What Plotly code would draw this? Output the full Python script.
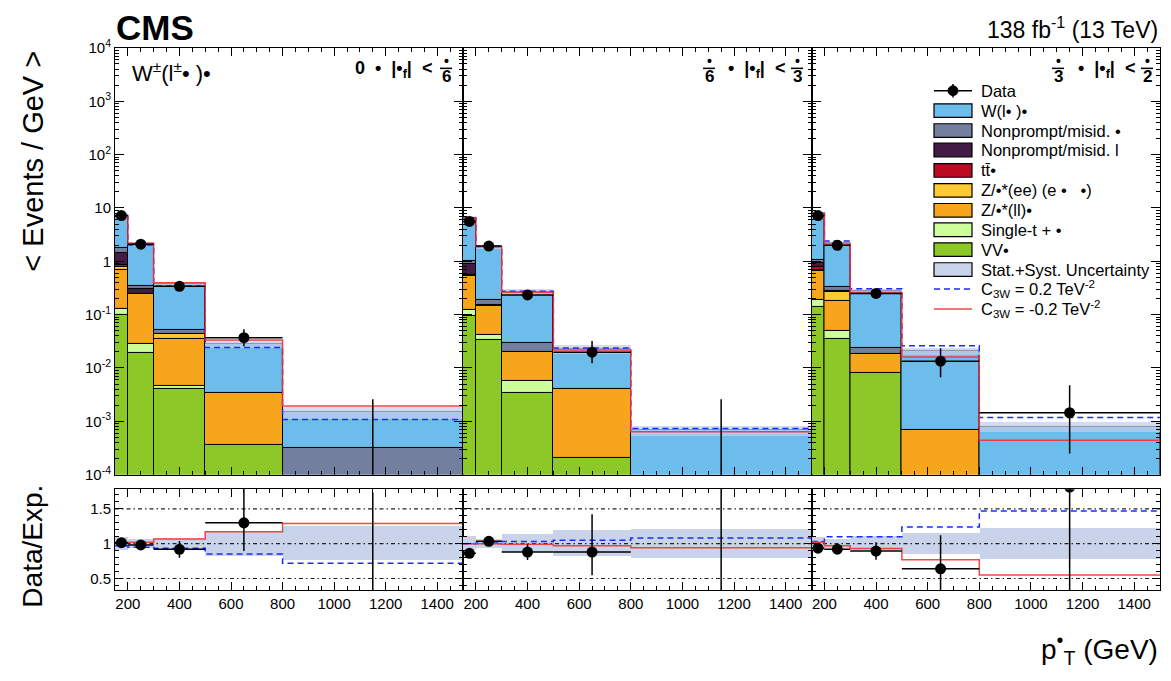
import plotly.graph_objects as go

W_PX, H_PX = 1171, 681
FONT = "Liberation Sans, Arial, sans-serif"

# ---------------- data ----------------
bin_edges = [150, 200, 300, 500, 800, 1500]
x_tick_vals = [200, 400, 600, 800, 1000, 1200, 1400]
y_tick_exps = [-4, -3, -2, -1, 0, 1, 2, 3, 4]
y_tick_text = ["10<sup>-4</sup>", "10<sup>-3</sup>", "10<sup>-2</sup>", "10<sup>-1</sup>", "1", "10",
               "10<sup>2</sup>", "10<sup>3</sup>", "10<sup>4</sup>"]
ratio_ticks = [0.5, 1.0, 1.5]
ratio_tick_text = ["0.5", "1", "1.5"]

# Events / GeV per panel (3 panels x 5 bins), per process
vv_g      = [[0.10, 0.019, 0.004, 0.00036, 0], [0.096, 0.034, 0.0034, 0.00021, 0], [0.14, 0.035, 0.0081, 0, 0]]
single_t  = [[0.03, 0.009, 0.0007, 0, 0], [0.026, 0.007, 0.0024, 0, 0], [0.045, 0.014, 0, 0, 0]]
z_ll_g    = [[0.57, 0.215, 0.031, 0.00304, 0], [0.40, 0.107, 0.014, 0.0039, 0], [0.465, 0.129, 0.0105, 0.00068, 0]]
z_ee_eg   = [[0.10, 0.002, 0.0075, 0, 0], [0.005, 0.002, 0, 0, 0], [0.03, 0.092, 0, 0, 0]]
tt_g      = [[0.06, 0.002, 0.0003, 0, 0], [0.025, 0.001, 0, 0, 0], [0.12, 0.002, 0, 0, 0]]
nonprompt_l = [[0.59, 0.053, 0.0005, 0, 0], [0.36, 0.002, 0, 0, 0], [0.15, 0.002, 0, 0, 0]]
nonprompt_g = [[0.35, 0.05, 0.0083, 0, 0.00032], [0.11, 0.035, 0.0092, 0, 0], [0.10, 0.05, 0.005, 0, 0]]
w_lnu_g   = [[5.3, 1.79, 0.318, 0.0251, 0.00118], [5.48, 1.68, 0.237, 0.0184, 0.00068], [6.65, 1.85, 0.256, 0.0203, 0.0008]]

# relative stat+syst uncertainty
rel_unc = [[0.09, 0.07, 0.08, 0.18, 0.245], [0.10, 0.07, 0.13, 0.185, 0.21], [0.09, 0.07, 0.10, 0.15, 0.22]]

# EFT predictions relative to SM expectation
c3w_pos_ratio = [[0.97, 0.95, 0.935, 0.85, 0.72], [1.0, 1.01, 1.03, 1.05, 1.08], [1.03, 1.10, 1.10, 1.24, 1.47]]
c3w_neg_ratio = [[1.02, 1.02, 1.065, 1.17, 1.29], [1.0, 1.0, 0.99, 0.97, 0.94], [1.02, 0.97, 0.93, 0.77, 0.55]]

# data
data_vals   = [[7.2, 2.1, 0.34, 0.037, 0], [5.6, 1.93, 0.234, 0.0198, 0], [7.2, 2.0, 0.25, 0.0134, 0.00145]]
data_err_up = [[0.3, 0.13, 0.045, 0.016, 0.0026], [0.28, 0.12, 0.03, 0.0122, 0.0026], [0.3, 0.13, 0.035, 0.0101, 0.0033]]
data_err_dn = [[0.3, 0.13, 0.045, 0.0115, 0], [0.28, 0.12, 0.03, 0.0075, 0], [0.3, 0.13, 0.035, 0.0067, 0.0012]]

process_names = ["VV•", "Single-t + •", "Z/•*(ll)•", "Z/•*(ee) (e •\u00a0\u00a0\u00a0•)", "tt\u0304•",
                 "Nonprompt/misid. l", "Nonprompt/misid. •", "W(l• )•"]
process_values = [vv_g, single_t, z_ll_g, z_ee_eg, tt_g, nonprompt_l, nonprompt_g, w_lnu_g]
process_colors = ["#8cc828", "#ccff99", "#f7a51c", "#fec932", "#bb0a22", "#431c45", "#737f9e", "#6cbdeb"]

panel_ranges = [("", "6"), ("6", "3"), ("3", "2")]

# ---------------- helpers ----------------
def px(x):
    return x / W_PX

def py(y):
    return 1 - y / H_PX

FLOOR = 1e-7
centers = [(a + b) / 2 for a, b in zip(bin_edges[:-1], bin_edges[1:])]
widths = [b - a for a, b in zip(bin_edges[:-1], bin_edges[1:])]
half_w = [w / 2 for w in widths]

RED = "rgba(245,50,50,0.9)"
BLUE = "#1a2cff"
BAND_MAIN = "rgba(196,206,234,0.72)"
BAND_RATIO = "#c9d3ea"

panel_x = [(115, 463), (463, 811.5), (811.5, 1160)]
main_y = (38, 477)
ratio_y = (492, 596)

fig = go.Figure()

for p in range(3):
    xa = "x%d" % (p + 1)
    ya = "y%d" % (p + 1)
    xr = "x%d" % (p + 4)
    yr = "y%d" % (p + 4)
    # stacked processes
    cum = [FLOOR] * 5
    for name, vals, col in zip(process_names, process_values, process_colors):
        v = vals[p]
        fig.add_trace(go.Bar(
            x=centers, y=[vv if vv > 0 else None for vv in v], base=list(cum), width=widths,
            marker=dict(color=col, line=dict(color="black", width=1)),
            xaxis=xa, yaxis=ya, showlegend=False, name=name, hoverinfo="skip"))
        cum = [c + vv for c, vv in zip(cum, v)]
    total = [c - FLOOR for c in cum]
    # uncertainty band
    fig.add_trace(go.Bar(
        x=centers, y=[2 * t * u for t, u in zip(total, rel_unc[p])],
        base=[t * (1 - u) for t, u in zip(total, rel_unc[p])], width=widths,
        marker=dict(color=BAND_MAIN, line=dict(width=0)),
        xaxis=xa, yaxis=ya, showlegend=False, hoverinfo="skip"))
    # EFT lines
    pos = [t * r for t, r in zip(total, c3w_pos_ratio[p])]
    neg = [t * r for t, r in zip(total, c3w_neg_ratio[p])]
    fig.add_trace(go.Scatter(x=bin_edges, y=pos + [pos[-1]], mode="lines", line_shape="hv",
                             line=dict(color=BLUE, width=1.5, dash="6px,4px"),
                             xaxis=xa, yaxis=ya, showlegend=False, hoverinfo="skip"))
    fig.add_trace(go.Scatter(x=bin_edges, y=neg + [neg[-1]], mode="lines", line_shape="hv",
                             line=dict(color=RED, width=1.5),
                             xaxis=xa, yaxis=ya, showlegend=False, hoverinfo="skip"))
    # data
    idx = [i for i in range(5) if data_vals[p][i] > 0]
    zero_idx = [i for i in range(5) if data_vals[p][i] <= 0]
    fig.add_trace(go.Scatter(
        x=[centers[i] for i in idx], y=[data_vals[p][i] for i in idx], mode="markers",
        marker=dict(color="black", size=11),
        error_y=dict(type="data", array=[data_err_up[p][i] for i in idx],
                     arrayminus=[data_err_dn[p][i] for i in idx], width=0, thickness=1.5, color="black"),
        error_x=dict(type="data", array=[half_w[i] for i in idx], width=0, thickness=1.5, color="black"),
        xaxis=xa, yaxis=ya, showlegend=False, hoverinfo="skip"))
    for i in zero_idx:
        fig.add_trace(go.Scatter(x=[centers[i], centers[i]], y=[FLOOR, data_err_up[p][i]], mode="lines",
                                 line=dict(color="black", width=1.5),
                                 xaxis=xa, yaxis=ya, showlegend=False, hoverinfo="skip"))

    # ---- ratio panel ----
    fig.add_trace(go.Bar(
        x=centers, y=[2 * u for u in rel_unc[p]], base=[1 - u for u in rel_unc[p]], width=widths,
        marker=dict(color=BAND_RATIO, line=dict(width=0)),
        xaxis=xr, yaxis=yr, showlegend=False, hoverinfo="skip"))
    for ref in ratio_ticks:
        fig.add_trace(go.Scatter(x=[bin_edges[0], bin_edges[-1]], y=[ref, ref], mode="lines",
                                 line=dict(color="#222222", width=1.2, dash="4px,3px,1.5px,3px"),
                                 xaxis=xr, yaxis=yr, showlegend=False, hoverinfo="skip"))
    rp = c3w_pos_ratio[p]
    rn = c3w_neg_ratio[p]
    fig.add_trace(go.Scatter(x=bin_edges, y=rp + [rp[-1]], mode="lines", line_shape="hv",
                             line=dict(color=BLUE, width=1.5, dash="6px,4px"),
                             xaxis=xr, yaxis=yr, showlegend=False, hoverinfo="skip"))
    fig.add_trace(go.Scatter(x=bin_edges, y=rn + [rn[-1]], mode="lines", line_shape="hv",
                             line=dict(color=RED, width=1.5),
                             xaxis=xr, yaxis=yr, showlegend=False, hoverinfo="skip"))
    fig.add_trace(go.Scatter(
        x=[centers[i] for i in idx], y=[data_vals[p][i] / total[i] for i in idx], mode="markers",
        marker=dict(color="black", size=11),
        error_y=dict(type="data", array=[data_err_up[p][i] / total[i] for i in idx],
                     arrayminus=[data_err_dn[p][i] / total[i] for i in idx], width=0, thickness=1.5, color="black"),
        error_x=dict(type="data", array=[half_w[i] for i in idx], width=0, thickness=1.5, color="black"),
        xaxis=xr, yaxis=yr, showlegend=False, hoverinfo="skip"))
    for i in zero_idx:
        fig.add_trace(go.Scatter(x=[centers[i], centers[i]], y=[0, data_err_up[p][i] / total[i]], mode="lines",
                                 line=dict(color="black", width=1.5),
                                 xaxis=xr, yaxis=yr, showlegend=False, hoverinfo="skip"))

# ---------------- axes ----------------
tickfont = dict(family=FONT, size=15, color="black")
minor_log = [m * 10 ** e for e in range(-4, 4) for m in range(2, 10)]
minor_ratio = [round(0.3 + 0.1 * k, 2) for k in range(1, 15)]
minor_x = [v for v in range(150, 1501, 50)]

layout_axes = {}
for p in range(3):
    x0, x1 = panel_x[p]
    common_x = dict(range=[bin_edges[0], bin_edges[-1]], domain=[px(x0), px(x1)],
                    showline=True, linecolor="black", linewidth=1, mirror="allticks",
                    ticks="inside", ticklen=8, tickwidth=1, tickcolor="black",
                    tickmode="array", tickvals=x_tick_vals,
                    minor=dict(ticks="inside", ticklen=4, tickcolor="black", tickmode="array", tickvals=minor_x),
                    showgrid=False, zeroline=False, tickfont=tickfont)
    layout_axes["xaxis%d" % (p + 1)] = dict(common_x, anchor="y%d" % (p + 1), showticklabels=False)
    layout_axes["xaxis%d" % (p + 4)] = dict(common_x, anchor="y%d" % (p + 4), showticklabels=True,
                                            ticktext=[str(v) for v in x_tick_vals])
    layout_axes["yaxis%d" % (p + 1)] = dict(
        type="log", range=[-4, 4], domain=[py(main_y[1]), py(main_y[0])], anchor="x%d" % (p + 1),
        showline=True, linecolor="black", linewidth=1, mirror="allticks",
        ticks="inside", ticklen=9, tickcolor="black",
        tickmode="array", tickvals=[10.0 ** e for e in y_tick_exps], ticktext=y_tick_text,
        minor=dict(ticks="inside", ticklen=4, tickcolor="black", tickmode="array", tickvals=minor_log),
        showgrid=False, zeroline=False, showticklabels=(p == 0), tickfont=tickfont)
    layout_axes["yaxis%d" % (p + 4)] = dict(
        range=[0.33, 1.78], domain=[py(ratio_y[1]), py(ratio_y[0])], anchor="x%d" % (p + 4),
        showline=True, linecolor="black", linewidth=1, mirror="allticks",
        ticks="inside", ticklen=8, tickcolor="black",
        tickmode="array", tickvals=ratio_ticks, ticktext=ratio_tick_text,
        minor=dict(ticks="inside", ticklen=4, tickcolor="black", tickmode="array", tickvals=minor_ratio),
        showgrid=False, zeroline=False, showticklabels=(p == 0), tickfont=tickfont)

# ---------------- annotations & shapes ----------------
ann = []
shapes = []

def text(x, y, s, size, xanchor="center", bold=False, angle=0, yanchor="middle"):
    if bold:
        s = "<b>" + s + "</b>"
    ann.append(dict(x=px(x), y=py(y), xref="paper", yref="paper", text=s, showarrow=False,
                    xanchor=xanchor, yanchor=yanchor, textangle=angle,
                    font=dict(family=FONT, size=size, color="black")))

text(114, 17, "CMS", 35, xanchor="left", bold=True)
text(1160, 18, "138 fb<sup>-1</sup> (13 TeV)", 23, xanchor="right")
text(33, 155, "&lt; Events / GeV &gt;", 29, angle=-90)
text(33, 551, "Data/Exp.", 28, angle=-90)
text(1160, 656, "p<sup>•</sup><sub>T</sub> (GeV)", 28, xanchor="right")
text(130, 63, "W<sup>±</sup>(l<sup>±</sup>• )•", 22, xanchor="left")

def fraction(cx, num, den):
    text(cx, 51, num, 14, bold=True)
    text(cx, 67, den, 17, bold=True)
    shapes.append(dict(type="line", xref="paper", yref="paper", x0=px(cx - 6), x1=px(cx + 6),
                       y0=py(59), y1=py(59), line=dict(color="black", width=1.5)))

frac_centers = [(None, 446), (709, 797), (1058, 1147)]
text_right = [434, 787, 1137]
for p in range(3):
    first, second = panel_ranges[p]
    c1, c2 = frac_centers[p]
    if first:
        fraction(c1, "•", first)
        text(text_right[p], 60, "•\u00a0\u00a0|•<sub>f</sub>|\u00a0\u00a0&lt;", 18, xanchor="right", bold=True)
    else:
        text(text_right[p], 60, "0\u00a0\u00a0•\u00a0\u00a0|•<sub>f</sub>|\u00a0\u00a0&lt;", 18, xanchor="right", bold=True)
    fraction(c2, "•", second)

# manual legend
leg_x0, leg_x1, leg_text_x = 934, 972, 979
leg_rows = [82, 102.5, 123, 143, 164, 184.5, 205, 225, 245.5, 266, 286, 306.5]
legend_entries = ([("Data", "data", None)] +
                  [(n, "box", c) for n, c in zip(process_names[::-1], process_colors[::-1])] +
                  [("Stat.+Syst. Uncertainty", "box", BAND_RATIO),
                   ("C<sub>3W</sub> = 0.2 TeV<sup>-2</sup>", "dash", BLUE),
                   ("C<sub>3W</sub> = -0.2 TeV<sup>-2</sup>", "line", RED)])
for (label, kind, col), yc in zip(legend_entries, leg_rows):
    if kind == "box":
        shapes.append(dict(type="rect", xref="paper", yref="paper", x0=px(leg_x0), x1=px(leg_x1),
                           y0=py(yc + 7), y1=py(yc - 7), fillcolor=col, line=dict(color="black", width=1.2)))
    elif kind == "data":
        shapes.append(dict(type="line", xref="paper", yref="paper", x0=px(leg_x0), x1=px(leg_x1),
                           y0=py(yc), y1=py(yc), line=dict(color="black", width=1.5)))
        shapes.append(dict(type="line", xref="paper", yref="paper", x0=px(953), x1=px(953),
                           y0=py(yc - 7), y1=py(yc + 7), line=dict(color="black", width=1.5)))
        shapes.append(dict(type="circle", xref="paper", yref="paper", x0=px(948), x1=px(958),
                           y0=py(yc + 5), y1=py(yc - 5), fillcolor="black", line=dict(color="black", width=1)))
    elif kind == "dash":
        shapes.append(dict(type="line", xref="paper", yref="paper", x0=px(leg_x0), x1=px(leg_x1),
                           y0=py(yc), y1=py(yc), line=dict(color=col, width=1.5, dash="6px,4px")))
    else:
        shapes.append(dict(type="line", xref="paper", yref="paper", x0=px(leg_x0), x1=px(leg_x1),
                           y0=py(yc), y1=py(yc), line=dict(color=col, width=1.5)))
    text(leg_text_x, yc, label, 16.5, xanchor="left")

fig.update_layout(
    width=W_PX, height=H_PX, margin=dict(l=0, r=0, t=0, b=0),
    paper_bgcolor="white", plot_bgcolor="white", barmode="overlay", bargap=0,
    annotations=ann, shapes=shapes, showlegend=False,
    font=dict(family=FONT, color="black"),
    **layout_axes)

fig.write_html("out.html", config={"displayModeBar": False},
               post_script="document.body.style.margin='0px';document.body.style.overflow='hidden';")
